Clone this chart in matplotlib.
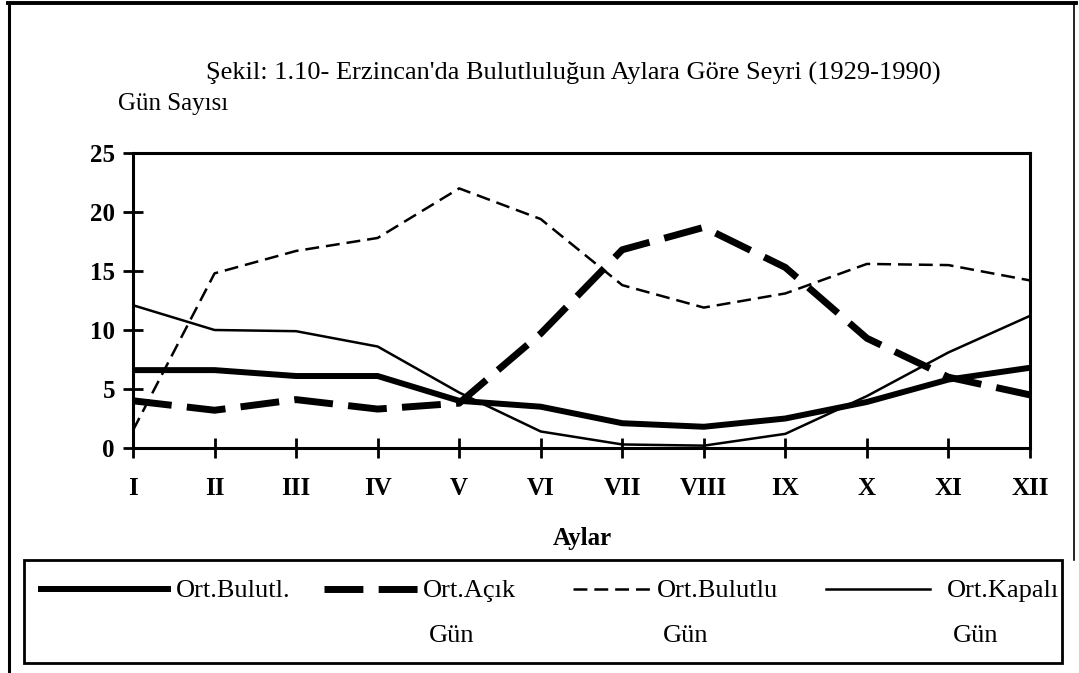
import matplotlib
matplotlib.use("Agg")
import matplotlib.pyplot as plt
from matplotlib.lines import Line2D
from matplotlib.patches import Rectangle

plt.rcParams['font.family'] = ['Liberation Serif', 'DejaVu Serif']
plt.rcParams['lines.scale_dashes'] = False

months = ["I", "II", "III", "IV", "V", "VI", "VII", "VIII", "IX", "X", "XI", "XII"]
ort_bulutluluk = [6.6, 6.6, 6.1, 6.1, 4.0, 3.5, 2.1, 1.8, 2.5, 3.9, 5.8, 6.8]
ort_acik_gun = [4.0, 3.2, 4.1, 3.3, 3.8, 9.7, 16.8, 18.7, 15.3, 9.3, 6.0, 4.5]
ort_bulutlu_gun = [1.5, 14.8, 16.7, 17.8, 22.0, 19.4, 13.8, 11.9, 13.1, 15.6, 15.5, 14.2]
ort_kapali_gun = [12.1, 10.0, 9.9, 8.6, 4.7, 1.4, 0.3, 0.2, 1.2, 4.4, 8.1, 11.2]

title = "Şekil: 1.10- Erzincan'da Bulutluluğun Aylara Göre Seyri (1929-1990)"
y_label = "Gün Sayısı"
x_label = "Aylar"
legend_labels = ["Ort.Bulutl.", "Ort.Açık\nGün", "Ort.Bulutlu\nGün", "Ort.Kapalı\nGün"]

W, H = 1079, 673
fig = plt.figure(figsize=(W / 100, H / 100), dpi=100)

def fx(px):
    return px / W

def fy(py):
    return 1 - py / H

ax = fig.add_axes([fx(133), fy(448), fx(1030) - fx(133), fy(153) - fy(448)])
x = list(range(len(months)))

styles = [
    dict(color='black', lw=4.3, solid_capstyle='butt'),
    dict(color='black', lw=5.0, dashes=(28, 11), dash_capstyle='butt'),
    dict(color='black', lw=1.8, dashes=(10, 5)),
    dict(color='black', lw=1.8),
]
series = [ort_bulutluluk, ort_acik_gun, ort_bulutlu_gun, ort_kapali_gun]
for s, st in zip(series, styles):
    ax.plot(x, s, **st)

ax.set_xlim(0, len(months) - 1)
ax.set_ylim(0, 25)
ax.set_xticks(x)
ax.set_xticklabels(months, fontsize=18, fontweight='bold')
ax.set_yticks([0, 5, 10, 15, 20, 25])
ax.set_yticklabels(["0", "5", "10", "15", "20", "25"], fontsize=18, fontweight='bold')
for sp in ax.spines.values():
    sp.set_linewidth(2.2)
ax.tick_params(direction='inout', length=14, width=2)
ax.tick_params(axis='y', pad=6)
ax.tick_params(axis='x', pad=14)

fig.text(fx(573), fy(73), title, ha='center', va='center', fontsize=19)
fig.text(fx(118), fy(104), y_label, ha='left', va='center', fontsize=18)
fig.text(fx(582), fy(538), x_label, ha='center', va='center', fontsize=18, fontweight='bold')

# outer frame
fig.add_artist(Line2D([fx(9), fx(9)], [0, fy(3)], color='black', lw=2.2))
fig.add_artist(Line2D([fx(8), fx(1076)], [fy(3), fy(3)], color='black', lw=2.8))
fig.add_artist(Line2D([fx(1074), fx(1074)], [fy(3), fy(560)], color='black', lw=1.2))

# legend box
fig.add_artist(Rectangle((fx(24), fy(663)), fx(1062) - fx(24), fy(560) - fy(663),
                         fill=False, edgecolor='black', lw=2.0))
leg = [
    (38, 171, 176, 0),
    (324, 420, 423, 1),
    (573, 655, 657, 2),
    (826, 930, 947, 3),
]
for x0, x1, tx, i in leg:
    fig.add_artist(Line2D([fx(x0), fx(x1)], [fy(589), fy(589)], **styles[i]))
    lines = legend_labels[i].split("\n")
    fig.text(fx(tx), fy(591), lines[0], ha='left', va='center', fontsize=19)
    if len(lines) > 1:
        fig.text(fx(tx + 6), fy(636), lines[1], ha='left', va='center', fontsize=19)

fig.savefig("out.png", dpi=100)
